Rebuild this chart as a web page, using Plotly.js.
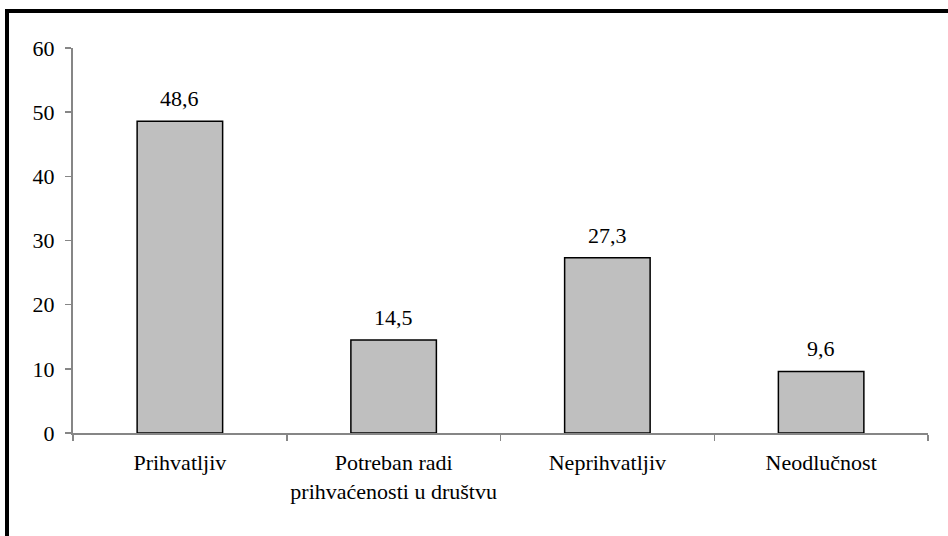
<!DOCTYPE html>
<html>
<head>
<meta charset="utf-8">
<script src="https://cdn.plot.ly/plotly-3.0.1.min.js"></script>
<style>
html,body{margin:0;padding:0;background:#fff;}
#wrap{position:relative;width:948px;height:536px;overflow:hidden;}
#chart{position:absolute;left:0;top:0;width:948px;height:536px;}
#frame{position:absolute;left:5px;top:9px;width:960px;height:560px;border-left:4px solid #000;border-top:4px solid #000;pointer-events:none;}
</style>
</head>
<body>
<div id="wrap"><div id="chart"></div><div id="frame"></div></div>
<script>
const categories = ["Prihvatljiv", "Potreban radi<br>prihvaćenosti u društvu", "Neprihvatljiv", "Neodlučnost"];
const values = [48.6, 14.5, 27.3, 9.6];
const yTicks = [0, 10, 20, 30, 40, 50, 60];

const font = {family: "Liberation Serif, Times New Roman, serif", size: 22, color: "#000"};

const labels = categories.map((c, i) => ({
  x: c, y: values[i], xref: "x", yref: "y",
  text: values[i].toFixed(1).replace(".", ","),
  showarrow: false, yanchor: "bottom", yshift: 8,
  font: font
}));

Plotly.newPlot("chart", [{
  type: "bar",
  x: categories,
  y: values,
  marker: {color: "#BFBFBF", line: {color: "#000", width: 1.5}},
  hoverinfo: "none"
}], {
  width: 948, height: 536,
  margin: {l: 73, r: 20, t: 48, b: 103},
  paper_bgcolor: "#fff", plot_bgcolor: "#fff",
  bargap: 0.6,
  showlegend: false,
  font: font,
  annotations: labels,
  xaxis: {
    type: "category", tickangle: 0,
    showline: true, linecolor: "#868686", linewidth: 2,
    ticks: "outside", tickson: "boundaries", ticklen: 6, tickcolor: "#868686", tickwidth: 1.5,
    tickfont: font, ticklabelstandoff: 9,
    showgrid: false, zeroline: false, fixedrange: true
  },
  yaxis: {
    range: [0, 60], tickvals: yTicks, ticktext: yTicks.map(String),
    showline: true, linecolor: "#868686", linewidth: 2,
    ticks: "outside", ticklen: 6, tickcolor: "#868686", tickwidth: 1.5,
    tickfont: font, ticklabelstandoff: 6,
    showgrid: false, zeroline: false, fixedrange: true
  }
}, {displayModeBar: false, staticPlot: true});
</script>
</body>
</html>
